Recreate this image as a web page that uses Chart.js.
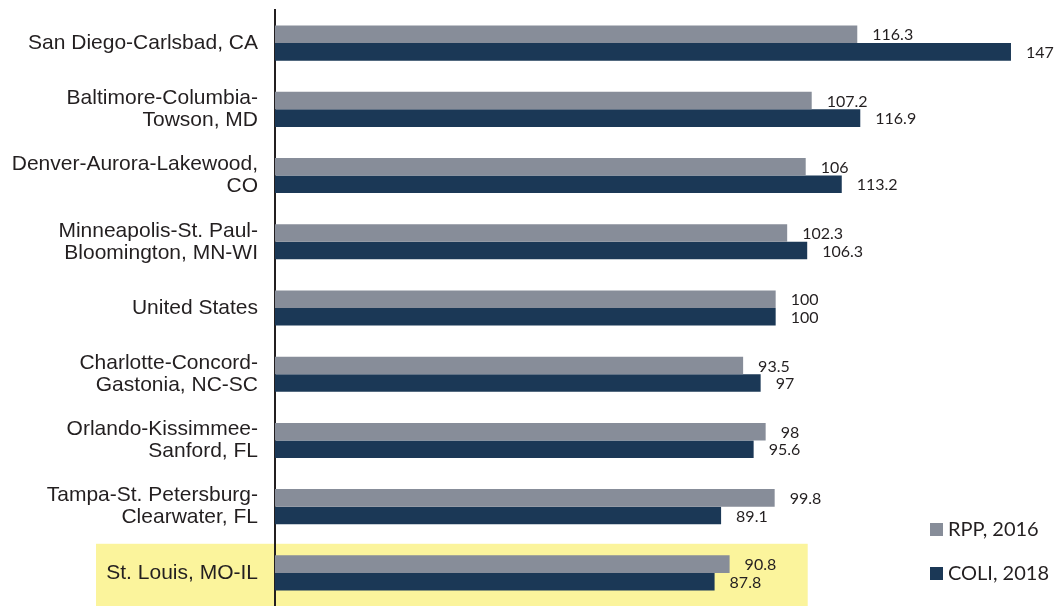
<!DOCTYPE html>
<html lang="en">
<head>
<meta charset="UTF-8">
<title>RPP vs COLI</title>
<script src="https://cdn.jsdelivr.net/npm/chart.js@4.4.0/dist/chart.umd.min.js"></script>
<style>
  html, body { margin: 0; padding: 0; background: #fff; }
  #wrap { width: 1056px; height: 606px; position: relative; }
</style>
</head>
<body>
<div id="wrap"><canvas id="myChart" width="1056" height="606"></canvas></div>
<script>
// categories (multi-line labels), series values
const categories = [
  ['San Diego-Carlsbad, CA'],
  ['Baltimore-Columbia-', 'Towson, MD'],
  ['Denver-Aurora-Lakewood,', 'CO'],
  ['Minneapolis-St. Paul-', 'Bloomington, MN-WI'],
  ['United States'],
  ['Charlotte-Concord-', 'Gastonia, NC-SC'],
  ['Orlando-Kissimmee-', 'Sanford, FL'],
  ['Tampa-St. Petersburg-', 'Clearwater, FL'],
  ['St. Louis, MO-IL']
];
const rpp2016 = [116.3, 107.2, 106, 102.3, 100, 93.5, 98, 99.8, 90.8];
const coli2018 = [147, 116.9, 113.2, 106.3, 100, 97, 95.6, 89.1, 87.8];
const seriesNames = ['RPP, 2016', 'COLI, 2018'];
const highlightIndex = 8;

const GRAY = '#878d99';
const NAVY = '#1b3856';

// yellow band behind St. Louis row (drawn before the axis and labels)
const highlight = {
  id: 'highlight',
  beforeDraw(chart) {
    const y = chart.scales.y, x = chart.scales.x, ctx = chart.ctx;
    const step = (y.getPixelForValue(1) - y.getPixelForValue(0));
    const cy = y.getPixelForValue(highlightIndex);
    ctx.save();
    ctx.fillStyle = '#fbf49c';
    ctx.fillRect(96, cy - step / 2 + 4, x.getPixelForValue(106.4) - 96, step);
    ctx.restore();
  }
};

// value labels after each bar
const valueLabels = {
  id: 'valueLabels',
  afterDatasetsDraw(chart) {
    const ctx = chart.ctx;
    ctx.save();
    ctx.font = '16px Lato';
    ctx.fillStyle = '#231f20';
    ctx.textBaseline = 'middle';
    chart.data.datasets.forEach((ds, di) => {
      chart.getDatasetMeta(di).data.forEach((bar, i) => {
        ctx.fillText(String(ds.data[i]), bar.x + 15, bar.y + 1);
      });
    });
    ctx.restore();
  }
};

// legend at bottom right
const sideLegend = {
  id: 'sideLegend',
  afterDraw(chart) {
    const ctx = chart.ctx;
    ctx.save();
    ctx.font = '20px Lato';
    ctx.textBaseline = 'middle';
    chart.data.datasets.forEach((ds, i) => {
      const y = 530 + i * 44;
      ctx.fillStyle = ds.backgroundColor;
      ctx.fillRect(930, y - 7, 13, 13);
      ctx.fillStyle = '#231f20';
      ctx.fillText(ds.label, 948, y);
    });
    ctx.restore();
  }
};

const ctx = document.getElementById('myChart').getContext('2d');
const myChart = new Chart(ctx, {
  type: 'bar',
  data: {
    labels: categories,
    datasets: [
      { label: seriesNames[0], data: rpp2016, backgroundColor: GRAY },
      { label: seriesNames[1], data: coli2018, backgroundColor: NAVY }
    ]
  },
  options: {
    indexAxis: 'y',
    responsive: false,
    animation: false,
    layout: { padding: { top: 10, right: 30, bottom: 0, left: 0 } },
    datasets: { bar: { categoryPercentage: 0.53, barPercentage: 1.0 } },
    plugins: { legend: { display: false }, tooltip: { enabled: false } },
    scales: {
      x: { display: false, min: 0, max: 150 },
      y: {
        grid: { display: false, drawTicks: false },
        border: { display: true, color: '#231f20', width: 2 },
        ticks: {
          color: '#231f20',
          padding: 17,
          autoSkip: false,
          font: { family: '"Liberation Sans", Arial', size: 21, lineHeight: 1.05 }
        },
        afterFit(scale) {
          scale.width = 275;
          scale.paddingTop = 0;
          scale.paddingBottom = 0;
        }
      }
    }
  },
  plugins: [highlight, valueLabels, sideLegend]
});
</script>
</body>
</html>
